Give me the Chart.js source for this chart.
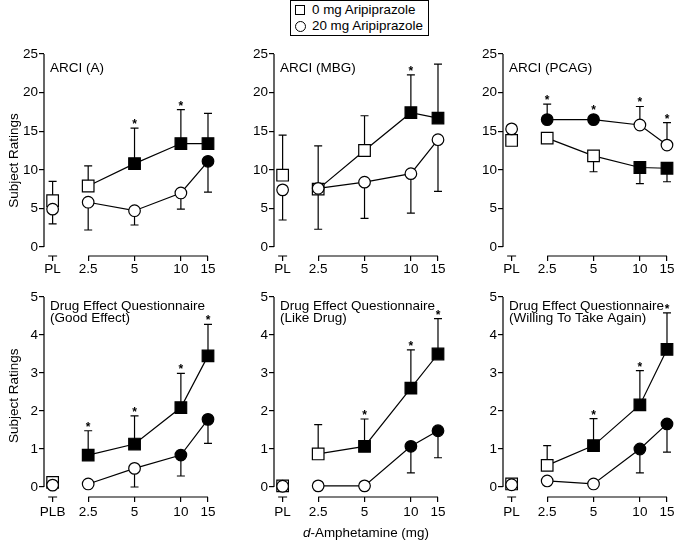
<!DOCTYPE html>
<html lang="en">
<head>
<meta charset="utf-8">
<title>Aripiprazole x d-Amphetamine subject ratings</title>
<script src="https://cdn.jsdelivr.net/npm/chart.js@4.4.1/dist/chart.umd.min.js"></script>
<style>
  body { margin: 0; background: #fff; }
  #wrap { position: relative; width: 685px; height: 541px; font-family: "Liberation Sans", Arial, sans-serif; color: #000; }
  canvas { position: absolute; }
  #legend { position: absolute; left: 290px; top: 0; width: 139px; height: 36px; border: 1.2px solid #000; box-sizing: border-box; font-size: 13.4px; }
  #legend .item { position: absolute; left: 21px; line-height: 16px; white-space: nowrap; }
  #legend .sq { position: absolute; left: 4px; top: 4px; width: 10px; height: 10px; border: 1.2px solid #000; box-sizing: border-box; }
  #legend .ci { position: absolute; left: 4px; top: 20px; width: 11px; height: 11px; border: 1.2px solid #000; border-radius: 50%; box-sizing: border-box; }
  #xtitle { position: absolute; left: 266px; width: 200px; top: 525px; text-align: center; font-size: 13.4px; line-height: 16px; }
</style>
</head>
<body>
<div id="wrap">
  <div id="legend">
    <span class="sq"></span><span class="item" style="top:1px">0 mg Aripiprazole</span>
    <span class="ci"></span><span class="item" style="top:17px">20 mg Aripiprazole</span>
  </div>
  <canvas id="arciA" width="226" height="245" style="left:0;top:40px"></canvas>
  <canvas id="arciMBG" width="226" height="245" style="left:230px;top:40px"></canvas>
  <canvas id="arciPCAG" width="226" height="245" style="left:459px;top:40px"></canvas>
  <canvas id="deqGood" width="226" height="250" style="left:0;top:280px"></canvas>
  <canvas id="deqLike" width="226" height="250" style="left:230px;top:280px"></canvas>
  <canvas id="deqAgain" width="226" height="250" style="left:459px;top:280px"></canvas>
  <div id="xtitle"><i>d</i>-Amphetamine (mg)</div>
</div>

<script type="text/javascript">

    // d-amphetamine dose conditions (PL = placebo)
    const doses = ["PL", 2.5, 5, 10, 15];
    const doseLabels = ["PL", "2.5", "5", "10", "15"];
    const doseLabelsPLB = ["PLB", "2.5", "5", "10", "15"];

    // ARCI (A)
    const arciA_0mg = [6.0, 7.9, 10.8, 13.4, 13.4];
    const arciA_0mgErr = [8.5, 10.5, 15.4, 17.8, 17.3];
    const arciA_0mgSig = [0, 0, 1, 1, 1];
    const arciA_20mg = [4.9, 5.8, 4.7, 7.0, 11.1];
    const arciA_20mgErr = [3.0, 2.2, 2.85, 4.9, 7.1];
    const arciA_20mgSig = [0, 0, 0, 0, 1];
    const arciA_star = [0, 0, 1, 1, 0];

    // ARCI (MBG)
    const arciMBG_0mg = [9.3, 7.5, 12.5, 17.4, 16.7];
    const arciMBG_0mgErr = [14.5, 13.1, 17.0, 22.3, 23.7];
    const arciMBG_0mgSig = [0, 0, 0, 1, 1];
    const arciMBG_20mg = [7.4, 7.6, 8.4, 9.5, 13.9];
    const arciMBG_20mgErr = [3.5, 2.3, 3.7, 4.4, 7.2];
    const arciMBG_20mgSig = [0, 0, 0, 0, 0];
    const arciMBG_star = [0, 0, 0, 1, 0];

    // ARCI (PCAG)
    const arciPCAG_0mg = [13.8, 14.1, 11.8, 10.3, 10.2];
    const arciPCAG_0mgErr = [null, null, 9.75, 8.2, 8.45];
    const arciPCAG_0mgSig = [0, 0, 0, 1, 1];
    const arciPCAG_20mg = [15.3, 16.5, 16.5, 15.8, 13.2];
    const arciPCAG_20mgErr = [null, 18.5, null, 18.2, 16.1];
    const arciPCAG_20mgSig = [0, 1, 1, 0, 0];
    const arciPCAG_star = [0, 1, 1, 1, 1];

    // DEQ Good Effect
    const deqGood_0mg = [0.12, 0.84, 1.13, 2.09, 3.45];
    const deqGood_0mgErr = [null, 1.48, 1.87, 2.99, 4.28];
    const deqGood_0mgSig = [0, 1, 1, 1, 1];
    const deqGood_20mg = [0.05, 0.08, 0.49, 0.84, 1.78];
    const deqGood_20mgErr = [null, null, 0.0, 0.29, 1.15];
    const deqGood_20mgSig = [0, 0, 0, 1, 1];
    const deqGood_star = [0, 1, 1, 1, 1];

    // DEQ Like Drug
    const deqLike_0mg = [0.03, 0.87, 1.07, 2.6, 3.5];
    const deqLike_0mgErr = [null, 1.64, 1.79, 3.61, 4.43];
    const deqLike_0mgSig = [0, 0, 1, 1, 1];
    const deqLike_20mg = [0.02, 0.03, 0.03, 1.07, 1.48];
    const deqLike_20mgErr = [null, null, null, 0.37, 0.77];
    const deqLike_20mgSig = [0, 0, 0, 1, 1];
    const deqLike_star = [0, 0, 1, 1, 1];

    // DEQ Willing To Take Again
    const deqAgain_0mg = [0.08, 0.57, 1.09, 2.16, 3.62];
    const deqAgain_0mgErr = [null, 1.09, 1.8, 3.06, 4.58];
    const deqAgain_0mgSig = [0, 0, 1, 1, 1];
    const deqAgain_20mg = [0.06, 0.16, 0.08, 1.0, 1.66];
    const deqAgain_20mgErr = [null, null, null, 0.37, 0.92];
    const deqAgain_20mgSig = [0, 0, 0, 1, 1];
    const deqAgain_star = [0, 0, 1, 1, 1];

    // dose axis is logarithmic, placebo sits on its own stub left of 2.5
    const PL_X = 0.167;
    const X_MIN = 0.111;
    const X_MAX = 1.232;
    const xOf = d => d === "PL" ? PL_X : Math.log10(d);

    const FONT = {family: '"Liberation Sans", Arial, sans-serif', size: 13.5};

    const panels = [
        {id: "arciA", title: ["ARCI (A)"], yMax: 25, yMin: -1.166, step: 5, labels: doseLabels, yTitle: true,
            sq: arciA_0mg, sqErr: arciA_0mgErr, sqSig: arciA_0mgSig,
            ci: arciA_20mg, ciErr: arciA_20mgErr, ciSig: arciA_20mgSig, star: arciA_star},
        {id: "arciMBG", title: ["ARCI (MBG)"], yMax: 25, yMin: -1.166, step: 5, labels: doseLabels,
            sq: arciMBG_0mg, sqErr: arciMBG_0mgErr, sqSig: arciMBG_0mgSig,
            ci: arciMBG_20mg, ciErr: arciMBG_20mgErr, ciSig: arciMBG_20mgSig, star: arciMBG_star},
        {id: "arciPCAG", title: ["ARCI (PCAG)"], yMax: 25, yMin: -1.166, step: 5, labels: doseLabels,
            sq: arciPCAG_0mg, sqErr: arciPCAG_0mgErr, sqSig: arciPCAG_0mgSig,
            ci: arciPCAG_20mg, ciErr: arciPCAG_20mgErr, ciSig: arciPCAG_20mgSig, star: arciPCAG_star},
        {id: "deqGood", title: ["Drug Effect Questionnaire", "(Good Effect)"], yMax: 5, yMin: -0.263, step: 1, labels: doseLabelsPLB, yTitle: true,
            sq: deqGood_0mg, sqErr: deqGood_0mgErr, sqSig: deqGood_0mgSig,
            ci: deqGood_20mg, ciErr: deqGood_20mgErr, ciSig: deqGood_20mgSig, star: deqGood_star},
        {id: "deqLike", title: ["Drug Effect Questionnaire", "(Like Drug)"], yMax: 5, yMin: -0.263, step: 1, labels: doseLabels,
            sq: deqLike_0mg, sqErr: deqLike_0mgErr, sqSig: deqLike_0mgSig,
            ci: deqLike_20mg, ciErr: deqLike_20mgErr, ciSig: deqLike_20mgSig, star: deqLike_star},
        {id: "deqAgain", title: ["Drug Effect Questionnaire", "(Willing To Take Again)"], yMax: 5, yMin: -0.263, step: 1, labels: doseLabels,
            sq: deqAgain_0mg, sqErr: deqAgain_0mgErr, sqSig: deqAgain_0mgSig,
            ci: deqAgain_20mg, ciErr: deqAgain_20mgErr, ciSig: deqAgain_20mgSig, star: deqAgain_star}
    ];

    // error bars (behind markers), axis lines, panel captions and asterisks
    const panelDecor = {
        id: "panelDecor",
        beforeDatasetsDraw(chart) {
            const {ctx, scales: {x, y}} = chart;
            ctx.save();
            ctx.strokeStyle = "#000";
            ctx.lineWidth = 1.2;
            chart.data.datasets.forEach(ds => {
                ds.errEnd.forEach((e, i) => {
                    if (e === null) return;
                    const px = x.getPixelForValue(ds.data[i].x);
                    const py0 = y.getPixelForValue(ds.data[i].y);
                    const py1 = y.getPixelForValue(e);
                    ctx.beginPath();
                    ctx.moveTo(px, py0);
                    ctx.lineTo(px, py1);
                    ctx.moveTo(px - 4, py1);
                    ctx.lineTo(px + 4, py1);
                    ctx.stroke();
                });
            });
            ctx.restore();
        },
        afterDraw(chart) {
            const {ctx, chartArea: a, scales: {x, y}} = chart;
            const p = chart.options.plugins.panelDecor;
            ctx.save();
            ctx.strokeStyle = "#000";
            ctx.lineWidth = 1.2;
            ctx.beginPath();
            ctx.moveTo(a.left, y.getPixelForValue(0));
            ctx.lineTo(a.left, y.getPixelForValue(p.yMax));
            const pl = x.getPixelForValue(PL_X);
            ctx.moveTo(pl - 4.5, a.bottom);
            ctx.lineTo(pl + 4.5, a.bottom);
            ctx.moveTo(x.getPixelForValue(xOf(2.5)), a.bottom);
            ctx.lineTo(x.getPixelForValue(xOf(15)), a.bottom);
            ctx.stroke();

            ctx.fillStyle = "#000";
            ctx.font = FONT.size + "px " + FONT.family;
            ctx.textAlign = "left";
            ctx.textBaseline = "alphabetic";
            p.title.forEach((line, k) => {
                ctx.fillText(line, a.left + 6, a.top + p.titleTop + k * 12);
            });

            // y title of the left column, drawn at its own height
            if (p.yTitle) {
                ctx.save();
                ctx.translate(14, y.getPixelForValue(p.yTitleAt));
                ctx.rotate(-Math.PI / 2);
                ctx.textAlign = "center";
                ctx.textBaseline = "middle";
                ctx.fillText("Subject Ratings", 0, 0);
                ctx.restore();
            }

            ctx.font = "bold 12px " + FONT.family;
            ctx.textAlign = "center";
            p.star.forEach((s, i) => {
                if (!s) return;
                let top = Infinity;
                chart.data.datasets.forEach(ds => {
                    top = Math.min(top, y.getPixelForValue(ds.data[i].y) - 6);
                    if (ds.errEnd[i] !== null) top = Math.min(top, y.getPixelForValue(ds.errEnd[i]));
                });
                ctx.fillText("*", x.getPixelForValue(xOf(doses[i])), top);
            });
            ctx.restore();
        }
    };

    function makeDataset(vals, err, sig, style, radius) {
        return {
            data: doses.map((d, i) => ({x: xOf(d), y: vals[i]})),
            errEnd: err,
            pointStyle: style,
            pointRadius: radius,
            pointHoverRadius: radius,
            pointBorderWidth: 1.2,
            pointBorderColor: "#000",
            pointBackgroundColor: sig.map(s => s ? "#000" : "#fff"),
            borderColor: "#000",
            borderWidth: 1.2,
            showLine: true,
            clip: false,
            segment: {
                borderColor: c => c.p0DataIndex === 0 ? "rgba(0,0,0,0)" : "#000"
            }
        };
    }

    panels.forEach(p => {
        const top = p.yMax === 25;
        new Chart(p.id, {
            type: "scatter",
            data: {
                datasets: [
                    makeDataset(p.ci, p.ciErr, p.ciSig, "circle", 5.8),
                    makeDataset(p.sq, p.sqErr, p.sqSig, "rect", 8.2)
                ]
            },
            plugins: [panelDecor],
            options: {
                responsive: false,
                animation: false,
                events: [],
                layout: {padding: {top: top ? 14 : 17, left: 0, right: 0, bottom: 0}},
                plugins: {
                    legend: {display: false},
                    tooltip: {enabled: false},
                    panelDecor: {
                        title: p.title, star: p.star, yMax: p.yMax,
                        titleTop: top ? 18 : 12.5,
                        yTitle: !!p.yTitle, yTitleAt: top ? 11.2 : 2.4
                    }
                },
                scales: {
                    x: {
                        type: "linear",
                        min: X_MIN,
                        max: X_MAX,
                        afterBuildTicks: s => { s.ticks = doses.map(d => ({value: xOf(d)})); },
                        afterFit: s => { s.height = top ? 29 : 33; },
                        border: {display: false},
                        grid: {display: true, drawOnChartArea: false, drawTicks: true, tickLength: 5, color: "#000", lineWidth: 1.2},
                        ticks: {
                            autoSkip: false,
                            maxRotation: 0,
                            padding: top ? 0 : 2,
                            color: "#000",
                            font: FONT,
                            callback: (v, i) => p.labels[i]
                        }
                    },
                    y: {
                        min: p.yMin,
                        max: p.yMax,
                        afterBuildTicks: s => {
                            const t = [];
                            for (let v = 0; v <= p.yMax + 1e-9; v += p.step) t.push({value: v});
                            s.ticks = t;
                        },
                        afterFit: s => { s.width = 44; },
                        border: {display: false},
                        grid: {display: true, drawOnChartArea: false, drawTicks: true, tickLength: 5, color: "#000", lineWidth: 1.2},
                        ticks: {padding: 1, color: "#000", font: FONT}
                    }
                }
            }
        });
    });

</script>
</body>
</html>
